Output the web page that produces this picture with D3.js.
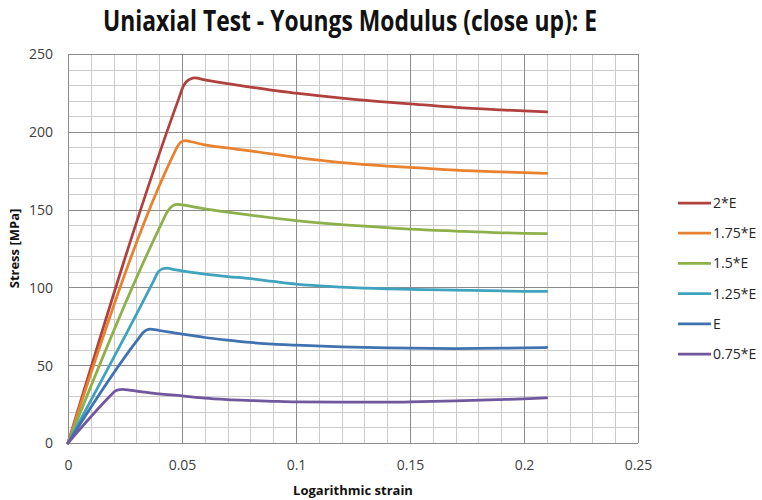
<!DOCTYPE html>
<html>
<head>
<meta charset="utf-8">
<script src="https://cdn.jsdelivr.net/npm/d3@7"></script>
<style>
  html, body { margin: 0; padding: 0; background: #ffffff; }
  svg { display: block; font-family: "Open Sans", "DejaVu Sans", sans-serif; }
</style>
</head>
<body>
<svg id="chart" width="762" height="500"></svg>
<script>
// Series labels (legend order) and line colours
const seriesNames = ["2*E", "1.75*E", "1.5*E", "1.25*E", "E", "0.75*E"];
const seriesColors = ["#B0413E", "#E8822F", "#8DB04B", "#3FA3BF", "#3F72AF", "#71579D"];

// [logarithmic strain, stress in MPa] for each modulus factor
const curve2E = [
  [0, 0], [0.0485, 221], [0.0505, 229], [0.052, 232.3], [0.0537, 234], [0.0556, 234.6],
  [0.06, 233.4], [0.07, 230.9], [0.08, 228.7], [0.09, 226.6], [0.1, 224.8], [0.12, 221.6],
  [0.14, 219.0], [0.15, 218.0], [0.17, 215.7], [0.19, 214.1], [0.2, 213.4], [0.21, 212.8]
];
const curve175E = [
  [0, 0], [0.046, 184.5], [0.048, 190.5], [0.0495, 193.3], [0.0515, 194.3], [0.054, 193.6],
  [0.06, 191.6], [0.07, 189.6], [0.08, 187.7], [0.09, 185.6], [0.1, 183.6], [0.12, 180.2],
  [0.14, 178.0], [0.15, 177.2], [0.17, 175.4], [0.19, 174.2], [0.2, 173.7], [0.21, 173.3]
];
const curve15E = [
  [0, 0], [0.041, 141], [0.0435, 148.5], [0.0455, 152], [0.0478, 153.4], [0.05, 153],
  [0.06, 150.4], [0.07, 148.4], [0.08, 146.5], [0.09, 144.6], [0.1, 142.9], [0.12, 140.3],
  [0.14, 138.4], [0.15, 137.5], [0.17, 136.2], [0.19, 135.1], [0.2, 134.8], [0.21, 134.6]
];
const curve125E = [
  [0, 0], [0.0375, 104], [0.0395, 109.8], [0.0415, 112], [0.0435, 112.4], [0.046, 111.6],
  [0.05, 110.6], [0.06, 108.6], [0.07, 107], [0.08, 105.6], [0.09, 103.8], [0.1, 102.1],
  [0.12, 100.2], [0.14, 99.1], [0.15, 98.8], [0.17, 98.2], [0.19, 97.7], [0.2, 97.5], [0.21, 97.4]
];
const curveE = [
  [0, 0], [0.031, 67.3], [0.033, 71], [0.0345, 72.7], [0.036, 73.2], [0.04, 72.3],
  [0.05, 70], [0.06, 67.8], [0.07, 66.1], [0.08, 64.6], [0.09, 63.5], [0.1, 62.9],
  [0.12, 61.8], [0.14, 61.1], [0.15, 60.9], [0.17, 60.7], [0.19, 60.9], [0.2, 61.1], [0.21, 61.4]
];
const curve075E = [
  [0, 0], [0.019, 31], [0.0205, 33.2], [0.022, 34.2], [0.0238, 34.5], [0.027, 34],
  [0.03, 33.3], [0.036, 32.2], [0.04, 31.6], [0.05, 30.3], [0.06, 28.8], [0.07, 27.9],
  [0.08, 27.3], [0.09, 26.8], [0.1, 26.4], [0.12, 26.2], [0.14, 26.2], [0.15, 26.4],
  [0.17, 27], [0.19, 27.9], [0.2, 28.4], [0.21, 29]
];
const seriesData = [curve2E, curve175E, curve15E, curve125E, curveE, curve075E];

// Axis ticks
const xTicks = [0, 0.05, 0.1, 0.15, 0.2, 0.25];
const yTicks = [0, 50, 100, 150, 200, 250];
const xMinorStep = 0.01;
const yMinorStep = 10;

const titleText = "Uniaxial Test - Youngs Modulus (close up): E";
const xTitle = "Logarithmic strain";
const yTitle = "Stress [MPa]";

const svg = d3.select("#chart");
const x = d3.scaleLinear().domain([0, 0.25]).range([68, 638]);
const y = d3.scaleLinear().domain([0, 250]).range([443, 54]);
const crisp = v => Math.round(v) + 0.5;

// Gridlines: minor first, then major
const grid = svg.append("g");
const xMinor = d3.range(0, 0.25 + 1e-9, xMinorStep);
const yMinor = d3.range(0, 250 + 1e-9, yMinorStep);
grid.selectAll(".vx").data(xMinor).join("line")
  .attr("x1", d => crisp(x(d))).attr("x2", d => crisp(x(d)))
  .attr("y1", y(250)).attr("y2", y(0))
  .attr("stroke", "#cccccc").attr("stroke-width", 1);
grid.selectAll(".hy").data(yMinor).join("line")
  .attr("y1", d => crisp(y(d))).attr("y2", d => crisp(y(d)))
  .attr("x1", x(0)).attr("x2", x(0.25))
  .attr("stroke", "#cccccc").attr("stroke-width", 1);
grid.selectAll(".vX").data(xTicks).join("line")
  .attr("x1", d => crisp(x(d))).attr("x2", d => crisp(x(d)))
  .attr("y1", y(250)).attr("y2", y(0))
  .attr("stroke", "#8c8c8c").attr("stroke-width", 1);
grid.selectAll(".hY").data(yTicks).join("line")
  .attr("y1", d => crisp(y(d))).attr("y2", d => crisp(y(d)))
  .attr("x1", x(0)).attr("x2", x(0.25))
  .attr("stroke", "#8c8c8c").attr("stroke-width", 1);

// Axes (labels only)
const fmt = d => d === 0 ? "0" : String(d);
const xAxis = svg.append("g").attr("transform", `translate(0,${y(0)})`)
  .call(d3.axisBottom(x).tickValues(xTicks).tickSize(0).tickPadding(0).tickFormat(fmt));
xAxis.select(".domain").remove();
xAxis.selectAll("text").attr("y", 27).attr("dy", 0)
  .attr("font-size", 14).attr("font-family", "'Open Sans', sans-serif").attr("fill", "#404040");

const yAxis = svg.append("g").attr("transform", `translate(${x(0)},0)`)
  .call(d3.axisLeft(y).tickValues(yTicks).tickSize(0).tickPadding(0).tickFormat(fmt));
yAxis.select(".domain").remove();
yAxis.selectAll("text").attr("x", -15).attr("dy", "0.35em")
  .attr("font-size", 14).attr("font-family", "'Open Sans', sans-serif").attr("fill", "#404040");

// Curves
const line = d3.line().x(d => x(d[0])).y(d => y(d[1])).curve(d3.curveMonotoneX);
svg.append("g").selectAll("path").data(seriesData).join("path")
  .attr("d", line)
  .attr("fill", "none")
  .attr("stroke", (d, i) => seriesColors[i])
  .attr("stroke-width", 2.75)
  .attr("stroke-linejoin", "round")
  .attr("stroke-linecap", "round");

// Legend
const legend = svg.append("g");
const legendY = d3.scaleLinear().domain([0, seriesNames.length - 1]).range([203, 354]);
seriesNames.forEach((name, i) => {
  const ly = legendY(i);
  legend.append("line")
    .attr("x1", 678).attr("x2", 711).attr("y1", ly).attr("y2", ly)
    .attr("stroke", seriesColors[i]).attr("stroke-width", 2.75);
  legend.append("text")
    .attr("x", 713).attr("y", ly).attr("dy", "0.35em")
    .attr("font-size", 14).attr("fill", "#262626")
    .text(name);
});

// Titles
svg.append("text")
  .attr("x", 103).attr("y", 31)
  .attr("font-size", 28).attr("font-weight", "bold").attr("fill", "#111111")
  .attr("textLength", 494).attr("lengthAdjust", "spacingAndGlyphs")
  .text(titleText);

svg.append("text")
  .attr("x", (x(0) + x(0.25)) / 2).attr("y", 495)
  .attr("text-anchor", "middle")
  .attr("font-size", 13).attr("font-weight", "bold").attr("fill", "#111111")
  .text(xTitle);

svg.append("text")
  .attr("transform", `translate(19,${(y(0) + y(250)) / 2}) rotate(-90)`)
  .attr("text-anchor", "middle")
  .attr("font-size", 13).attr("font-weight", "bold").attr("fill", "#111111")
  .text(yTitle);
</script>
</body>
</html>
